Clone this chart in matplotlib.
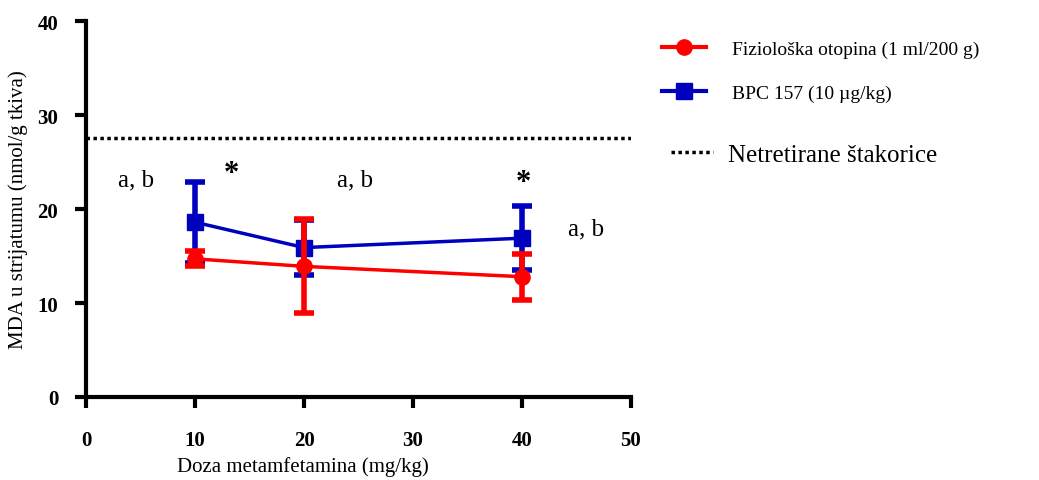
import matplotlib
matplotlib.use('Agg')
import matplotlib.pyplot as plt
from matplotlib.lines import Line2D

plt.rcParams['font.family'] = ['Liberation Serif', 'DejaVu Serif']

# doses (mg/kg)
doses = [10, 20, 40]
# saline group
saline_mean = [14.7, 13.9, 12.8]
saline_err = [0.8, 5.0, 2.45]
# BPC 157 group
bpc_mean = [18.6, 15.9, 16.9]
bpc_err = [4.3, 2.9, 3.4]
# untreated rats
untreated = 27.55

annot_text = ['a, b', '*', 'a, b', '*', 'a, b']
annot_x = [4.6, 13.3, 24.7, 40.1, 45.9]
annot_y = [23.2, 23.8, 23.2, 22.8, 17.9]

fig = plt.figure(figsize=(10.39, 4.81), dpi=100)
ax = fig.add_axes([0.0828, 0.1726, 0.5245, 0.7814])

ax.errorbar(doses, saline_mean, yerr=saline_err, color='#ff0000', marker='o',
            markersize=11, linewidth=2.5, elinewidth=4, capsize=7, capthick=4, zorder=3)
ax.errorbar(doses, bpc_mean, yerr=bpc_err, color='#0000bf', marker='s',
            markersize=11, linewidth=2.5, elinewidth=4, capsize=7, capthick=4, zorder=2)
ax.axhline(untreated, color='black', linestyle=(0, (1, 1)), linewidth=2.5)

for t, x, y in zip(annot_text, annot_x, annot_y):
    if t == '*':
        ax.text(x, y, t, fontsize=22, fontweight='bold', ha='center', va='center')
    else:
        ax.text(x, y, t, fontsize=18, ha='center', va='center')

ax.set_xlim(0, 50)
ax.set_ylim(0, 40)
ax.set_xticks([0, 10, 20, 30, 40, 50])
ax.set_yticks([0, 10, 20, 30, 40])
for s in ['top', 'right']:
    ax.spines[s].set_visible(False)
for s in ['left', 'bottom']:
    ax.spines[s].set_linewidth(3)
ax.tick_params(width=3, length=8, labelsize=15)
ax.tick_params(axis='x', pad=16)
ax.tick_params(axis='y', pad=12)
for lab in ax.get_xticklabels() + ax.get_yticklabels():
    lab.set_fontweight('bold')

ax.set_xlabel('Doza metamfetamina (mg/kg)', fontsize=15, va='center')
ax.xaxis.set_label_coords(0.398, -0.183)
ax.set_ylabel('MDA u strijatumu (nmol/g tkiva)', fontsize=15, va='center')
ax.yaxis.set_label_coords(-0.125, 0.5)

handles = [
    Line2D([], [], color='#ff0000', marker='o', markersize=11, linewidth=3),
    Line2D([], [], color='#0000bf', marker='s', markersize=11, linewidth=3),
]
labels = ['Fiziološka otopina (1 ml/200 g)', 'BPC 157 (10 µg/kg)']
fig.legend(handles, labels, loc='upper left', bbox_to_anchor=(0.62, 0.95),
           frameon=False, fontsize=14, handlelength=2.3, labelspacing=1.35,
           handletextpad=1.3)
fig.legend([Line2D([], [], color='black', linestyle=(0, (1, 1)), linewidth=2.5)],
           ['Netretirane štakorice'], loc='upper left', bbox_to_anchor=(0.624, 0.746),
           frameon=False, fontsize=18, handlelength=1.7, handletextpad=0.6)

fig.savefig('out.png', dpi=100)
